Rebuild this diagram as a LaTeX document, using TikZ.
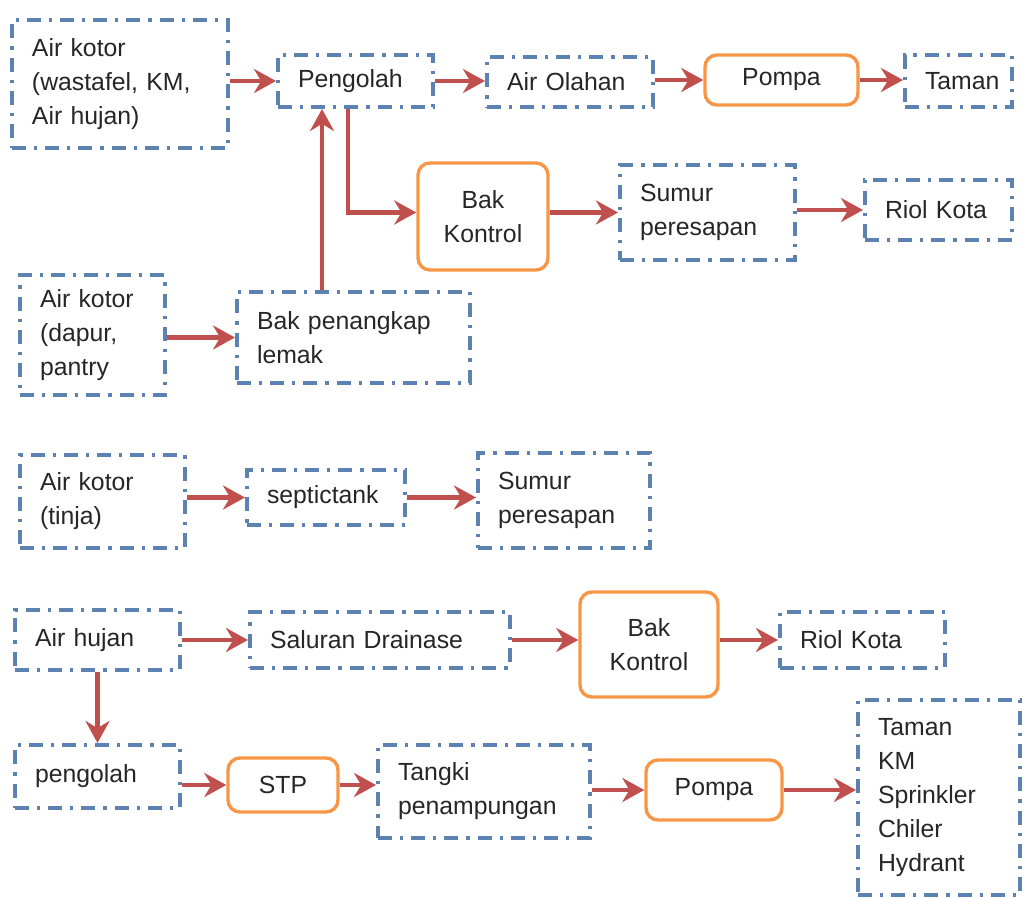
\documentclass[tikz,border=0pt]{standalone}
\usepackage{fontspec}
\setmainfont{Liberation Sans}
\usepackage{tikz}
\usetikzlibrary{arrows.meta,calc,positioning}
\definecolor{garisBiru}{HTML}{5B82B0}
\definecolor{oranye}{HTML}{F79646}
\definecolor{merah}{HTML}{C0504D}
\definecolor{teksGelap}{HTML}{262626}

\begin{document}
\begin{tikzpicture}[x=0.5pt,y=-0.5pt,
  kotak/.style={draw=garisBiru,line width=2pt,dash pattern=on 7pt off 4pt on 1.6pt off 4pt,
    inner xsep=10pt,align=left,text=teksGelap,font=\fontsize{12.4}{17}\selectfont},
  kotakBulat/.style={draw=oranye,line width=1.7pt,rounded corners=6pt,align=center,
    text=teksGelap,font=\fontsize{12.4}{17}\selectfont},
  panah/.style={merah,line width=2.3pt,-{Stealth[length=11pt,width=12pt]}}]
\useasboundingbox (0,0) rectangle (1025,898);
\node[kotak,text width=88pt,minimum height=64pt] (kotor1) at (120,84) {Air kotor\\(wastafel, KM,\\Air hujan)};
\node[kotak,text width=57.5pt,minimum height=26pt] (olah1) at (355.5,81) {Pengolah};
\node[kotak,text width=63pt,minimum height=25pt] (olahan) at (570,82) {Air Olahan};
\node[kotakBulat,minimum width=76.5pt,minimum height=25pt] (pompa1) at (781.5,80) {Pompa};
\node[kotak,text width=33.5pt,minimum height=26pt] (taman1) at (958.5,81) {Taman};
\node[kotakBulat,minimum width=65pt,minimum height=53.5pt] (bak1) at (483,216.5) {Bak\\Kontrol};
\node[kotak,text width=67.5pt,minimum height=47.5pt] (sumur1) at (707.5,212.5) {Sumur\\peresapan};
\node[kotak,text width=53.5pt,minimum height=30pt] (riol1) at (938.5,210) {Riol Kota};
\node[kotak,text width=52.5pt,minimum height=60pt] (dapur) at (92.5,335) {Air kotor\\(dapur,\\pantry};
\node[kotak,text width=96.5pt,minimum height=45.5pt] (lemak) at (353.5,337.5) {Bak penangkap\\lemak};
\node[kotak,text width=62.5pt,minimum height=46.5pt] (tinja) at (102.5,501.5) {Air kotor\\(tinja)};
\node[kotak,text width=59pt,minimum height=27.5pt] (septic) at (326,497.5) {septictank};
\node[kotak,text width=66pt,minimum height=47.5pt] (sumur2) at (564,500.5) {Sumur\\peresapan};
\node[kotak,text width=62.5pt,minimum height=30pt] (hujan) at (97.5,640) {Air hujan};
\node[kotak,text width=110pt,minimum height=28pt] (saluran) at (380,640) {Saluran Drainase};
\node[kotakBulat,minimum width=69pt,minimum height=52.5pt] (bak2) at (649,644.5) {Bak\\Kontrol};
\node[kotak,text width=62.5pt,minimum height=28pt] (riol2) at (862.5,640) {Riol Kota};
\node[kotak,text width=62.5pt,minimum height=31.5pt] (olah2) at (97.5,776.5) {pengolah};
\node[kotakBulat,minimum width=55pt,minimum height=27pt] (stp) at (283,785) {STP};
\node[kotak,text width=86pt,minimum height=46.5pt] (tangki) at (484,791.5) {Tangki\\penampungan};
\node[kotakBulat,minimum width=68pt,minimum height=30pt] (pompa2) at (714,790) {Pompa};
\node[kotak,text width=61pt,minimum height=97.5pt] (guna) at (939,797.5) {Taman\\KM\\Sprinkler\\Chiler\\Hydrant};
\draw[panah] (kotor1.east |- olah1.west) -- (olah1.west);
\draw[panah] (olah1.east) -- (olahan.west |- olah1.east);
\draw[panah] (olahan.east |- pompa1.west) -- (pompa1.west);
\draw[panah] (pompa1.east) -- (taman1.west |- pompa1.east);
\draw[panah] ([xshift=-15.75pt]lemak.north) -- ([xshift=-15.75pt]lemak.north |- olah1.south);
\draw[panah] ([xshift=-3.75pt]olah1.south) |- ($(bak1.west)+(0,-4)$);
\draw[panah] (bak1.east |- sumur1.west) -- (sumur1.west);
\draw[panah] (sumur1.east |- riol1.west) -- (riol1.west);
\draw[panah] (dapur.east |- lemak.west) -- (lemak.west);
\draw[panah] (tinja.east |- septic.west) -- (septic.west);
\draw[panah] (septic.east) -- (sumur2.west |- septic.east);
\draw[panah] (hujan.east) -- (saluran.west);
\draw[panah] (saluran.east) -- (bak2.west |- saluran.east);
\draw[panah] (bak2.east |- riol2.west) -- (riol2.west);
\draw[panah] (hujan.south) -- (olah2.north);
\draw[panah] (olah2.east |- stp.west) -- (stp.west);
\draw[panah] (stp.east) -- (tangki.west |- stp.east);
\draw[panah] (tangki.east |- pompa2.west) -- (pompa2.west);
\draw[panah] (pompa2.east) -- (guna.west |- pompa2.east);
\end{tikzpicture}
\end{document}
